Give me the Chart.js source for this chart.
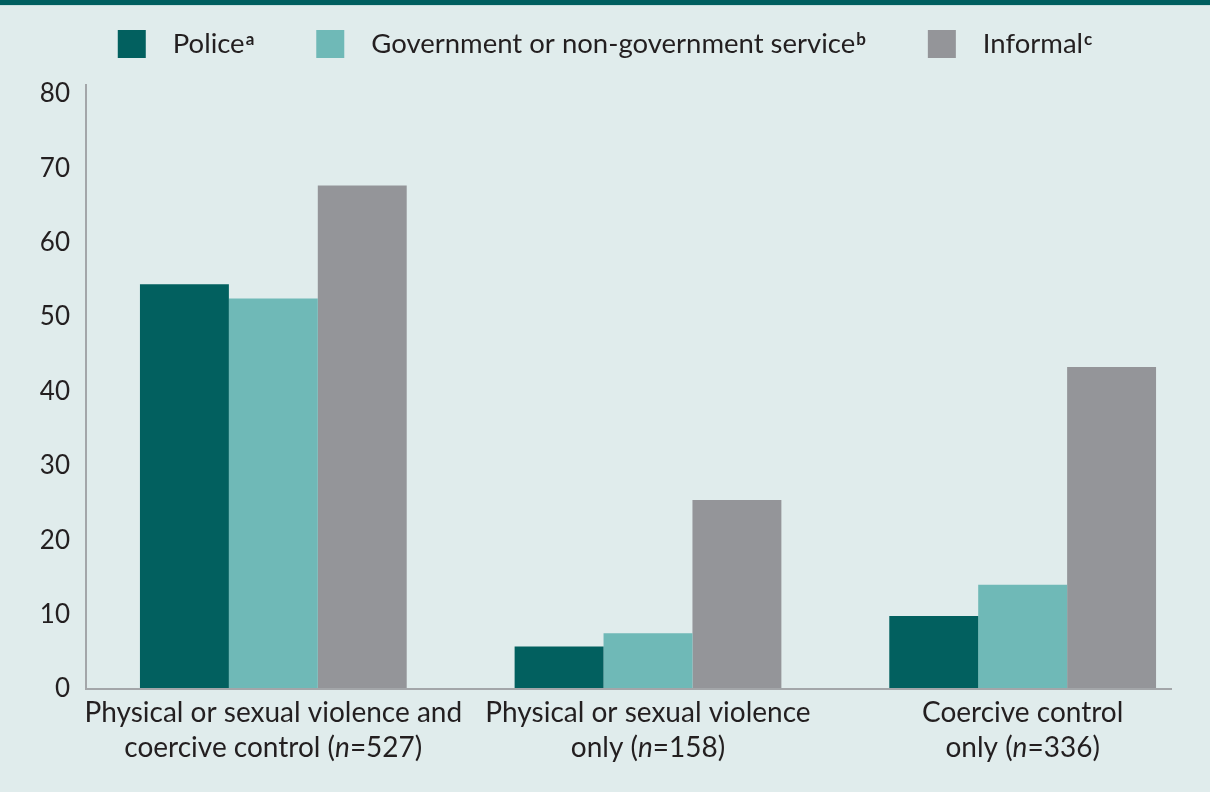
<!DOCTYPE html>
<html>
<head>
<meta charset="utf-8">
<script src="https://cdn.jsdelivr.net/npm/chart.js@4.4.1/dist/chart.umd.min.js"></script>
<style>
  html, body { margin: 0; padding: 0; background: #e0ecec; }
  #frame { position: absolute; left: 0; top: 0; width: 1210px; height: 792px; }
  #band { position: absolute; left: 0; top: 0; width: 1210px; height: 5px; background: #005f60; border-bottom: 1px solid #c9dfdf; }
</style>
</head>
<body>
<div id="frame"><canvas id="chart" width="1210" height="792"></canvas></div>
<div id="band"></div>
<script>
// Category labels (two lines each) and the sample size shown after each
const categoryLines = [
  ['Physical or sexual violence and', 'coercive control'],
  ['Physical or sexual violence', 'only'],
  ['Coercive control', 'only']
];
const sampleSizes = [527, 158, 336];

// Series names and their footnote markers
const seriesNames = ['Police', 'Government or non-government service', 'Informal'];
const seriesNotes = ['a', 'b', 'c'];
const seriesColors = ['#02605f', '#6fb9b7', '#949599'];

// Percentages per category
const policeValues = [54.4, 5.7, 9.8];
const serviceValues = [52.5, 7.5, 14.0];
const informalValues = [67.7, 25.4, 43.3];

// Y-axis tick labels
const yTickValues = [0, 10, 20, 30, 40, 50, 60, 70, 80];

const FONT = 'Lato';
const TEXT = '#231f20';
const AXIS = '#a3a6a9';

// Two-line category labels under the bars, with an italic "n"
const categoryLabelPlugin = {
  id: 'categoryLabels',
  afterDraw(chart) {
    const { ctx, chartArea, scales } = chart;
    const x = scales.x;
    ctx.save();
    ctx.fillStyle = TEXT;
    ctx.textBaseline = 'middle';
    ctx.textAlign = 'left';
    const regular = '28px ' + FONT;
    const italic = 'italic 28px ' + FONT;
    categoryLines.forEach((lines, i) => {
      const cx = x.getPixelForValue(i);
      // first line
      ctx.font = regular;
      const w1 = ctx.measureText(lines[0]).width;
      ctx.fillText(lines[0], cx - w1 / 2, chartArea.bottom + 24);
      // second line with sample size
      const parts = [
        { t: lines[1] + ' (', f: regular },
        { t: 'n', f: italic },
        { t: '=' + sampleSizes[i] + ')', f: regular }
      ];
      let total = 0;
      parts.forEach(p => { ctx.font = p.f; p.w = ctx.measureText(p.t).width; total += p.w; });
      let px = cx - total / 2;
      parts.forEach(p => { ctx.font = p.f; ctx.fillText(p.t, px, chartArea.bottom + 59); px += p.w; });
    });
    // baseline of the category axis
    ctx.strokeStyle = AXIS;
    ctx.lineWidth = 2;
    ctx.beginPath();
    ctx.moveTo(chartArea.left, chartArea.bottom);
    ctx.lineTo(chartArea.right - 38, chartArea.bottom);
    ctx.stroke();
    ctx.restore();
  }
};

// Legend row across the top, with superscript note markers
const legendRowPlugin = {
  id: 'legendRow',
  afterDraw(chart) {
    const { ctx } = chart;
    const box = 28, textGap = 27, itemGap = 62, cy = 44;
    const main = '27.5px ' + FONT;
    const sup = 'bold 17px ' + FONT;
    const items = chart.data.datasets.map((ds, i) => {
      ctx.font = main;
      const tw = ctx.measureText(ds.label).width;
      ctx.font = sup;
      const sw = ctx.measureText(seriesNotes[i]).width + 1;
      return { label: ds.label, color: ds.backgroundColor, note: seriesNotes[i], tw, sw };
    });
    let total = 0;
    items.forEach((it, i) => { total += box + textGap + it.tw + it.sw + (i ? itemGap : 0); });
    let x = chart.width / 2 - total / 2;
    ctx.save();
    items.forEach(it => {
      ctx.fillStyle = it.color;
      ctx.fillRect(x, cy - box / 2, box, box);
      x += box + textGap;
      ctx.fillStyle = TEXT;
      ctx.textBaseline = 'middle';
      ctx.textAlign = 'left';
      ctx.font = main;
      ctx.fillText(it.label, x, cy);
      x += it.tw + 1;
      ctx.font = sup;
      ctx.textBaseline = 'alphabetic';
      ctx.fillText(it.note, x, cy + 1);
      x += it.sw - 1 + itemGap;
    });
    ctx.restore();
  }
};

new Chart(document.getElementById('chart'), {
  type: 'bar',
  data: {
    labels: categoryLines.map(l => l.join(' ')),
    datasets: [
      { label: seriesNames[0], data: policeValues, backgroundColor: seriesColors[0] },
      { label: seriesNames[1], data: serviceValues, backgroundColor: seriesColors[1] },
      { label: seriesNames[2], data: informalValues, backgroundColor: seriesColors[2] }
    ].map(ds => Object.assign(ds, { borderWidth: 0, barPercentage: 1, categoryPercentage: 0.712 }))
  },
  options: {
    responsive: false,
    animation: false,
    devicePixelRatio: 1,
    layout: { padding: { top: 85, left: 1, right: 0, bottom: 0 } },
    plugins: {
      legend: { display: false },
      tooltip: { enabled: false },
      title: { display: false }
    },
    scales: {
      x: {
        grid: { display: false, drawTicks: false },
        border: { display: false },
        ticks: { display: false },
        afterFit(scale) { scale.height = 103; }
      },
      y: {
        min: 0,
        max: 81.2,
        grid: { display: false, drawTicks: false },
        border: { display: true, color: AXIS, width: 2 },
        ticks: { color: TEXT, font: { family: FONT, size: 26 }, padding: 16 },
        afterBuildTicks(scale) { scale.ticks = yTickValues.map(v => ({ value: v })); },
        afterFit(scale) { scale.width = 85; }
      }
    }
  },
  plugins: [categoryLabelPlugin, legendRowPlugin]
});
</script>
</body>
</html>
